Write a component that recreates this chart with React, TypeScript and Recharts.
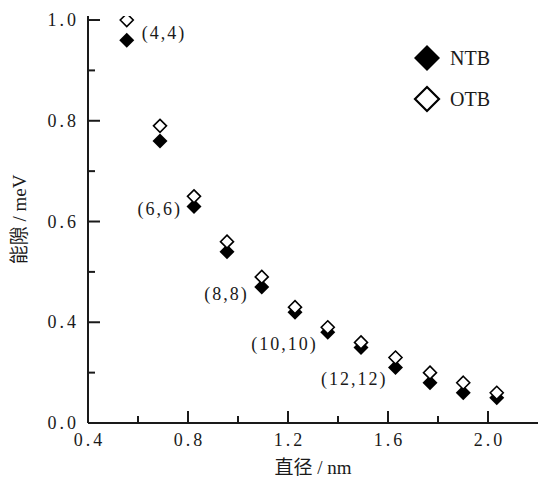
import { ScatterChart, Scatter, XAxis, YAxis, Legend } from 'recharts'

// nanotube diameter (nm) and band gap
const diameters = [0.555, 0.688, 0.824, 0.956, 1.095, 1.228, 1.359, 1.492, 1.63, 1.768, 1.901, 2.035]
const ntbGap = [0.96, 0.76, 0.63, 0.54, 0.47, 0.42, 0.38, 0.35, 0.31, 0.28, 0.26, 0.25]
const otbGap = [1.0, 0.79, 0.65, 0.56, 0.49, 0.43, 0.39, 0.36, 0.33, 0.3, 0.28, 0.26]
const tubeLabels = ['(4,4)', '', '(6,6)', '', '(8,8)', '', '(10,10)', '', '(12,12)', '', '', '']

const xMajorTicks = [0.4, 0.8, 1.2, 1.6, 2.0]
const xMajorLabels = ['0.4', '0.8', '1.2', '1.6', '2.0']
const xMinorTicks = [0.6, 1.0, 1.4, 1.8]

// the bottom of the printed axis is labelled 0.0
const yMajorTicks = [0.2, 0.4, 0.6, 0.8, 1.0]
const yMajorLabels = ['0.0', '0.4', '0.6', '0.8', '1.0']
const yMinorTicks = [0.3, 0.5, 0.7, 0.9]

const ntbPoints = diameters.map((d, i) => ({ d, gap: ntbGap[i], label: tubeLabels[i] }))
const otbPoints = diameters.map((d, i) => ({ d, gap: otbGap[i] }))
const xTicks = [...xMajorTicks, ...xMinorTicks].sort((a, b) => a - b)
const yTicks = [...yMajorTicks, ...yMinorTicks].sort((a, b) => a - b)

const CHART_W = 538
const CHART_H = 477
const PLOT_LEFT = 88
const PLOT_TOP = 16
const X_AXIS_H = 54
const PLOT_BOTTOM = CHART_H - X_AXIS_H

const SERIF = '"Liberation Serif", "Times New Roman", serif'
const TITLE_FONT = '"Liberation Serif", "Noto Sans CJK SC", serif'
const INK = '#1a1a1a'

const labelPlacement: Record<string, { dx: number; dy: number; anchor: 'start' | 'end' }> = {
  '(4,4)': { dx: 15, dy: -7, anchor: 'start' },
  '(6,6)': { dx: -12, dy: 3, anchor: 'end' },
  '(8,8)': { dx: -13, dy: 7, anchor: 'end' },
  '(10,10)': { dx: -10, dy: 12, anchor: 'end' },
  '(12,12)': { dx: -8, dy: 11, anchor: 'end' },
}

const seriesStyle: Record<string, { fill: string }> = {
  NTB: { fill: '#000' },
  OTB: { fill: '#fff' },
}

function diamond(cx: number, cy: number, r: number) {
  return `${cx},${cy - r} ${cx + r},${cy} ${cx},${cy + r} ${cx - r},${cy}`
}

function NtbMark(props: any) {
  const { cx, cy, payload } = props
  if (cx == null || cy == null) return null
  const place = payload?.label ? labelPlacement[payload.label] : null
  return (
    <g>
      <polygon points={diamond(cx, cy, 7.5)} fill="#000" />
      {place && (
        <text
          x={cx + place.dx}
          y={cy + place.dy}
          textAnchor={place.anchor}
          dominantBaseline="central"
          fontFamily={SERIF}
          fontSize={18}
          letterSpacing={2}
          fill={INK}
        >
          {payload.label}
        </text>
      )}
    </g>
  )
}

function OtbMark(props: any) {
  const { cx, cy } = props
  if (cx == null || cy == null) return null
  return <polygon points={diamond(cx, cy, 6.5)} fill="#fff" stroke="#000" strokeWidth={1.6} />
}

function XTick(props: any) {
  const { x, payload } = props
  const i = xMajorTicks.indexOf(payload.value)
  const major = i >= 0
  return (
    <g>
      <line x1={x} x2={x} y1={PLOT_BOTTOM} y2={PLOT_BOTTOM - (major ? 12 : 7)} stroke={INK} strokeWidth={2} />
      {major && (
        <text
          x={x + 1.5}
          y={PLOT_BOTTOM + 17}
          textAnchor="middle"
          dominantBaseline="central"
          fontFamily={SERIF}
          fontSize={18}
          letterSpacing={3}
          fill={INK}
        >
          {xMajorLabels[i]}
        </text>
      )}
    </g>
  )
}

function YTick(props: any) {
  const { y, payload } = props
  const i = yMajorTicks.indexOf(payload.value)
  const major = i >= 0
  return (
    <g>
      <line x1={PLOT_LEFT} x2={PLOT_LEFT + (major ? 12 : 7)} y1={y} y2={y} stroke={INK} strokeWidth={2} />
      {major && (
        <text
          x={PLOT_LEFT - 9}
          y={y}
          textAnchor="end"
          dominantBaseline="central"
          fontFamily={SERIF}
          fontSize={18}
          letterSpacing={3}
          fill={INK}
        >
          {yMajorLabels[i]}
        </text>
      )}
    </g>
  )
}

function LegendBox(props: any) {
  const items = props.payload || []
  return (
    <svg width={110} height={84} style={{ display: 'block' }}>
      {items.map((entry: any, i: number) => {
        const cy = 18 + i * 41
        const style = seriesStyle[entry.value] || { fill: '#000' }
        return (
          <g key={entry.value}>
            <polygon
              points={diamond(17, cy, style.fill === '#000' ? 13 : 12)}
              fill={style.fill}
              stroke="#000"
              strokeWidth={style.fill === '#000' ? 0 : 2.2}
            />
            <text x={40} y={cy} dominantBaseline="central" fontFamily={SERIF} fontSize={20} fill={INK}>
              {entry.value}
            </text>
          </g>
        )
      })}
    </svg>
  )
}

export default function App() {
  return (
    <div style={{ position: 'absolute', left: 0, top: 0, background: '#fff' }}>
      <ScatterChart width={CHART_W} height={CHART_H} margin={{ top: PLOT_TOP, right: 0, bottom: 0, left: 0 }}>
        <XAxis
          xAxisId="top"
          orientation="top"
          type="number"
          domain={[0.4, 2.2]}
          height={0}
          tick={false}
          tickLine={false}
          axisLine={{ stroke: INK, strokeWidth: 2 }}
        />
        <XAxis
          type="number"
          dataKey="d"
          domain={[0.4, 2.2]}
          ticks={xTicks}
          interval={0}
          height={X_AXIS_H}
          allowDataOverflow
          axisLine={{ stroke: INK, strokeWidth: 2 }}
          tickLine={false}
          tick={(p: any) => <XTick {...p} />}
          label={{
            value: '直径 / nm',
            position: 'insideBottom',
            offset: 3,
            fill: INK,
            fontSize: 19,
            fontFamily: TITLE_FONT,
          }}
        />
        <YAxis
          type="number"
          dataKey="gap"
          domain={[0.2, 1.008]}
          ticks={yTicks}
          interval={0}
          width={PLOT_LEFT}
          allowDataOverflow
          axisLine={{ stroke: INK, strokeWidth: 2 }}
          tickLine={false}
          tick={(p: any) => <YTick {...p} />}
          label={{
            content: (lp: any) => {
              const vb = lp.viewBox || { x: 0, y: PLOT_TOP, height: PLOT_BOTTOM - PLOT_TOP }
              const cy = vb.y + vb.height / 2
              const cx = 19
              return (
                <text
                  x={cx}
                  y={cy}
                  transform={`rotate(-90 ${cx} ${cy})`}
                  textAnchor="middle"
                  dominantBaseline="central"
                  fontFamily={TITLE_FONT}
                  fontSize={19}
                  fill={INK}
                >
                  能隙 / meV
                </text>
              )
            },
          }}
        />
        <Legend
          layout="horizontal"
          verticalAlign="middle"
          align="center"
          wrapperStyle={{ left: 410, top: 40, width: 110, height: 84 }}
          content={(p: any) => <LegendBox {...p} />}
        />
        <Scatter name="NTB" data={ntbPoints} fill="#000" shape={(p: any) => <NtbMark {...p} />} isAnimationActive={false} />
        <Scatter name="OTB" data={otbPoints} fill="#fff" shape={(p: any) => <OtbMark {...p} />} isAnimationActive={false} />
      </ScatterChart>
    </div>
  )
}
